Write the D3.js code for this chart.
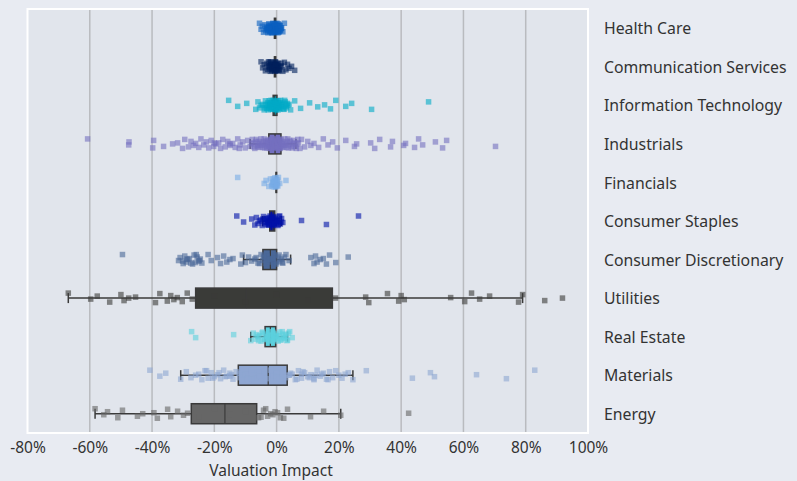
<!DOCTYPE html>
<html>
<head>
<meta charset="utf-8">
<script src="https://cdn.jsdelivr.net/npm/d3@7"></script>
<style>
html,body{margin:0;padding:0;background:#e8ebf2;}
svg{display:block;}
text{font-family:"Noto Sans","Open Sans",sans-serif;fill:#333;}
</style>
</head>
<body>
<svg id="chart" width="797" height="481"></svg>
<script>
const categories = ["Health Care","Communication Services","Information Technology","Industrials","Financials","Consumer Staples","Consumer Discretionary","Utilities","Real Estate","Materials","Energy"];
const colors = ["#0a5fc0","#00205b","#00aac6","#7470c0","#78ace6","#0010a8","#4a6898","#3a3b38","#5cd0de","#8ea6d2","#666666"];
const xTicks = [-0.8,-0.6,-0.4,-0.2,0,0.2,0.4,0.6,0.8,1.0];

const healthCare = [-0.055,-0.05,-0.046,-0.042,-0.038,-0.035,-0.032,-0.03,-0.028,-0.025,-0.022,-0.02,-0.018,-0.016,-0.014,-0.012,-0.01,-0.008,-0.006,-0.004,-0.002,0,0.002,0.004,0.006,0.008,0.01,0.013,0.016,0.02,0.025,-0.031,-0.027,-0.024,-0.021,-0.019,-0.017,-0.015,-0.013,-0.011,-0.009,-0.007,-0.005,-0.003,-0.001,0.001,0.003,0.005,0.007,0.009,0.012,0.015,-0.026,-0.016,-0.006,0.004,0.011,-0.029,-0.023,-0.012];
const commServices = [-0.05,-0.045,-0.04,-0.036,-0.032,-0.028,-0.025,-0.022,-0.02,-0.018,-0.015,-0.012,-0.01,-0.008,-0.006,-0.004,-0.002,0,0.002,0.005,0.008,0.012,0.016,0.02,0.025,0.03,0.035,0.04,0.048,0.058,-0.026,-0.023,-0.019,-0.017,-0.014,-0.011,-0.009,-0.007,-0.005,-0.003,-0.001,0.001,0.003,0.006,0.01,-0.021,-0.013,-0.004,0.004,0.014];
const infoTech = [-0.154,-0.125,-0.096,-0.067,-0.06,-0.055,-0.05,-0.045,-0.04,-0.036,-0.032,-0.028,-0.025,-0.022,-0.02,-0.018,-0.016,-0.014,-0.012,-0.01,-0.008,-0.006,-0.004,-0.002,0,0.002,0.004,0.006,0.008,0.01,0.013,0.016,0.02,0.024,0.028,0.032,0.036,0.04,0.045,0.058,0.077,0.106,0.132,0.154,0.173,0.19,0.222,0.241,0.305,0.488,-0.038,-0.034,-0.03,-0.027,-0.024,-0.021,-0.019,-0.017,-0.015,-0.013,-0.011,-0.009,-0.007,-0.005,-0.003,-0.001,0.001,0.003,0.005,0.007,0.009,0.012,0.015,0.018,0.022,0.026,0.03,0.034];
const industrials = [-0.607,-0.475,-0.474,-0.398,-0.395,-0.363,-0.334,-0.318,-0.302,-0.295,-0.283,-0.275,-0.267,-0.26,-0.25,-0.243,-0.234,-0.226,-0.218,-0.21,-0.202,-0.195,-0.186,-0.18,-0.173,-0.165,-0.157,-0.149,-0.141,-0.133,-0.125,-0.117,-0.109,-0.101,-0.093,-0.085,-0.08,-0.075,-0.07,-0.065,-0.06,-0.056,-0.052,-0.048,-0.044,-0.04,-0.037,-0.034,-0.031,-0.028,-0.025,-0.022,-0.02,-0.018,-0.016,-0.014,-0.012,-0.01,-0.008,-0.006,-0.004,-0.002,0,0.002,0.004,0.006,0.008,0.01,0.012,0.014,0.017,0.02,0.024,0.028,0.032,0.036,0.04,0.045,0.05,0.055,0.06,0.065,0.07,0.075,0.08,0.09,0.1,0.11,0.12,0.135,0.15,0.165,0.18,0.195,0.222,0.25,0.257,0.302,0.315,0.331,0.366,0.372,0.408,0.414,0.443,0.456,0.469,0.51,0.533,0.546,0.703,-0.15,-0.2,-0.12,-0.078,-0.072,-0.067,-0.062,-0.058,-0.054,-0.05,-0.046,-0.042,-0.038,-0.035,-0.032,-0.029,-0.026,-0.023,-0.021,-0.019,-0.017,-0.015,-0.013,-0.011,-0.009,-0.007,-0.005,-0.003,-0.001,0.001,0.003,0.005,0.007,0.009,0.011,0.013,0.016,0.019,0.022,0.026,0.03,0.034,0.038,0.042,0.047,0.052,0.058,0.063,0.068];
const financials = [-0.125,-0.04,-0.034,-0.025,-0.02,-0.016,-0.013,-0.01,-0.008,-0.006,-0.004,-0.002,0,0.002,0.004,0.006,0.01,0.03,-0.014,-0.011,-0.009,-0.007,-0.005,-0.003,-0.001,0.001,0.003,-0.012,-0.006,0.0];
const consumerStaples = [-0.128,-0.106,-0.08,-0.07,-0.065,-0.06,-0.055,-0.05,-0.046,-0.042,-0.038,-0.034,-0.03,-0.027,-0.024,-0.021,-0.018,-0.015,-0.012,-0.009,-0.006,-0.003,0,0.004,0.008,0.012,0.016,0.02,0.08,0.16,0.263,-0.036,-0.032,-0.028,-0.025,-0.022,-0.019,-0.016,-0.013,-0.01,-0.007,-0.004,-0.001,0.002,0.006,0.01,0.014,-0.044,-0.026,-0.017,-0.008,0.003];
const consumerDisc = [-0.495,-0.315,-0.31,-0.3,-0.295,-0.29,-0.285,-0.28,-0.27,-0.265,-0.26,-0.255,-0.25,-0.245,-0.24,-0.22,-0.21,-0.19,-0.18,-0.17,-0.16,-0.15,-0.14,-0.115,-0.11,-0.1,-0.09,-0.08,-0.07,-0.06,-0.05,-0.045,-0.04,-0.035,-0.03,-0.025,-0.02,-0.015,-0.01,-0.005,0,0.005,0.01,0.015,0.02,0.03,0.04,0.11,0.12,0.125,0.13,0.14,0.15,0.16,0.17,0.19,0.23,-0.302,-0.288,-0.276,-0.258,-0.248,-0.066,-0.055,-0.042,-0.032,-0.022,-0.012,-0.002,0.008,0.018,0.025];
const utilities = [-0.669,-0.597,-0.576,-0.536,-0.5,-0.49,-0.475,-0.453,-0.389,-0.375,-0.351,-0.34,-0.33,-0.319,-0.303,-0.287,-0.271,-0.2,-0.1,0.0,0.1,0.189,0.286,0.296,0.356,0.392,0.4,0.41,0.559,0.604,0.626,0.652,0.684,0.777,0.79,0.861,0.918];
const realEstate = [-0.273,-0.26,-0.138,-0.083,-0.075,-0.068,-0.06,-0.055,-0.05,-0.045,-0.04,-0.036,-0.032,-0.028,-0.025,-0.022,-0.019,-0.016,-0.013,-0.01,-0.007,-0.004,0,0.005,0.01,0.015,0.02,0.025,0.03,0.035,0.042,0.05,-0.065,-0.058,-0.047,-0.038,-0.03,-0.024,-0.018,-0.012,-0.006,-0.002,0.003,0.008,0.013,0.018,0.023,0.028,0.033,0.038];
const materials = [-0.407,-0.375,-0.356,-0.308,-0.29,-0.275,-0.26,-0.25,-0.24,-0.23,-0.22,-0.21,-0.2,-0.19,-0.18,-0.17,-0.16,-0.15,-0.14,-0.13,-0.12,-0.11,-0.1,-0.09,-0.08,-0.07,-0.06,-0.05,-0.04,-0.03,-0.02,-0.01,0,0.01,0.02,0.03,0.04,0.05,0.06,0.07,0.08,0.09,0.1,0.11,0.12,0.13,0.14,0.15,0.16,0.17,0.18,0.2,0.22,0.245,0.288,0.436,0.494,0.507,0.642,0.738,0.829,-0.15,-0.12,-0.08,-0.04,0.0,0.04,0.08,0.12,-0.225,-0.205,-0.185,-0.165,-0.145,-0.095,-0.075,-0.055,0.045,0.065,0.085,0.105,0.125,0.145,0.165,0.19,0.21,0.23];
const energy = [-0.583,-0.555,-0.543,-0.51,-0.495,-0.447,-0.43,-0.394,-0.383,-0.35,-0.34,-0.318,-0.299,-0.286,-0.25,-0.2,-0.15,-0.1,-0.058,-0.042,-0.029,-0.019,0.003,0.023,0.035,0.109,0.151,0.206,0.424,-0.05,-0.035,-0.012,-0.005,0.012];

const seriesValues = [healthCare,commServices,infoTech,industrials,financials,consumerStaples,consumerDisc,utilities,realEstate,materials,energy];

// box statistics: [whiskerLow, q1, median, q3, whiskerHigh]
const boxStats = [
  [-0.010,-0.007,-0.005,-0.003,-0.001],
  [-0.010,-0.007,-0.005,-0.003,-0.001],
  [-0.014,-0.011,-0.006,0.001,0.004],
  [-0.085,-0.025,-0.005,0.014,0.062],
  [-0.003,-0.002,-0.001,0.0,0.001],
  [-0.045,-0.022,-0.012,-0.006,0.015],
  [-0.106,-0.044,-0.02,0.0,0.045],
  [-0.669,-0.26,-0.097,0.179,0.79],
  [-0.083,-0.037,-0.02,-0.003,0.035],
  [-0.308,-0.123,-0.027,0.034,0.245],
  [-0.583,-0.274,-0.166,-0.064,0.206]
];

const jitter = [-0.5,0.1,-0.2,0.4,-0.35,0.25,0,-0.1,0.45,-0.45,0.3,-0.25,0.15,-0.05,0.35];

const svg = d3.select("#chart");
const plot = {left:27.5, right:588, top:9, bottom:433};

const x = d3.scaleLinear().domain([-0.8,1.0]).range([plot.left, plot.right]);
const y = d3.scaleBand().domain(categories).range([plot.top, plot.bottom]).padding(0);

svg.append("rect").attr("x",plot.left).attr("y",plot.top)
  .attr("width",plot.right-plot.left).attr("height",plot.bottom-plot.top)
  .attr("fill","#e1e5ec").attr("stroke","#ffffff").attr("stroke-width",2);

svg.append("g").selectAll("line").data(xTicks.filter(t=>t>-0.8 && t<1.0)).join("line")
  .attr("x1",d=>x(d)).attr("x2",d=>x(d)).attr("y1",plot.top+1).attr("y2",plot.bottom-1)
  .attr("stroke","#b9bbbf").attr("stroke-width",1.5);

const pct = d3.format(".0%");
const xAxis = d3.axisBottom(x).tickValues(xTicks).tickFormat(d=>pct(d).replace("\u2212","-")).tickSize(0).tickPadding(9);
const gx = svg.append("g").attr("transform",`translate(0,${plot.bottom})`).call(xAxis);
gx.select(".domain").remove();
gx.selectAll("text").style("font-size","15.5px").attr("fill","#333")
  .style("font-family","'Noto Sans','Open Sans',sans-serif");

svg.append("text").attr("x",271).attr("y",476).attr("text-anchor","middle")
  .style("font-size","15.5px").text("Valuation Impact");

const yAxis = d3.axisRight(y).tickSize(0).tickPadding(16);
const gy = svg.append("g").attr("transform",`translate(${plot.right},1)`).call(yAxis);
gy.select(".domain").remove();
gy.selectAll("text").style("font-size","15.8px").attr("fill","#333")
  .style("font-family","'Noto Sans','Open Sans',sans-serif");

const boxH = 20, capH = 10, sq = 5.5;
const stroke = "#3a3a3a";

categories.forEach((cat,i)=>{
  const cy = y(cat) + y.bandwidth()/2;
  const [wl,q1,med,q3,wh] = boxStats[i];
  const g = svg.append("g");
  g.append("line").attr("x1",x(wl)).attr("x2",x(q1)).attr("y1",cy).attr("y2",cy).attr("stroke",stroke).attr("stroke-width",1.5);
  g.append("line").attr("x1",x(q3)).attr("x2",x(wh)).attr("y1",cy).attr("y2",cy).attr("stroke",stroke).attr("stroke-width",1.5);
  [wl,wh].forEach(v=>g.append("line").attr("x1",x(v)).attr("x2",x(v)).attr("y1",cy-capH/2).attr("y2",cy+capH/2).attr("stroke",stroke).attr("stroke-width",1.5));
  g.append("rect").attr("x",x(q1)).attr("y",cy-boxH/2).attr("width",Math.max(0.5,x(q3)-x(q1))).attr("height",boxH)
    .attr("fill",colors[i]).attr("stroke",stroke).attr("stroke-width",1.5);
  g.append("line").attr("x1",x(med)).attr("x2",x(med)).attr("y1",cy-boxH/2).attr("y2",cy+boxH/2).attr("stroke",stroke).attr("stroke-width",1.2);
  g.selectAll("rect.pt").data(seriesValues[i]).join("rect").attr("class","pt")
    .attr("x",d=>x(d)-sq/2)
    .attr("y",(d,k)=>cy + jitter[k%jitter.length]*10 - sq/2)
    .attr("width",sq).attr("height",sq)
    .attr("fill",colors[i]).attr("fill-opacity",0.6);
});
</script>
</body>
</html>
